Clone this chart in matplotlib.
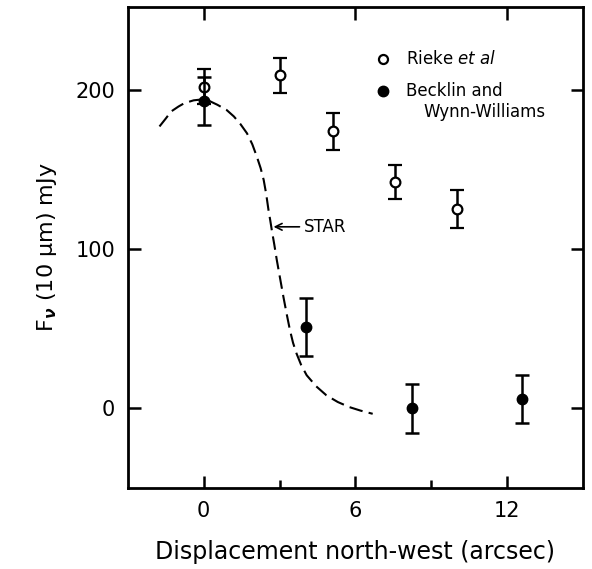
import matplotlib
matplotlib.use("Agg")
import matplotlib.pyplot as plt

# ---- data ----
rieke_x = [0.0, 3.0, 5.1, 7.55, 10.0]
rieke_y = [202, 209, 174, 142, 125]
rieke_err = [11, 11, 11.5, 10.5, 12]

becklin_x = [0.0, 4.05, 8.25, 12.6]
becklin_y = [193, 51, 0, 6]
becklin_err = [15, 18, 15.5, 15]

star_x = [-1.75, -1.5, -1.29, -1.0, -0.77, -0.4, -0.05, 0.25, 0.54, 0.9, 1.19,
          1.45, 1.71, 1.92, 2.1, 2.25, 2.37, 2.47, 2.56, 2.63, 2.69, 2.79, 2.89,
          3.02, 3.15, 3.28, 3.41, 3.53, 3.67, 3.85, 4.07, 4.45, 4.85, 5.3,
          5.76, 6.2, 6.68]
star_y = [177, 182, 186.4, 189.5, 191.6, 193.4, 194, 192.8, 190.6, 187.4,
          183.3, 178.5, 172.7, 165.8, 158, 150.8, 143.4, 134.5, 124.5, 118,
          112, 102.8, 93, 81.5, 70, 59.2, 49, 41.2, 34.4, 27.3, 20.8, 13.8,
          8.2, 4, 0.8, -1.4, -3.4]

x_major = [0, 6, 12]
x_minor = [3, 9]
y_major = [0, 100, 200]

plt.rcParams['font.family'] = ['DejaVu Sans']
plt.rcParams['mathtext.fontset'] = 'dejavusans'

fig = plt.figure(figsize=(5.92, 5.69), dpi=100)
ax = fig.add_axes([0.216, 0.1423, 0.769, 0.8454])

ax.plot(star_x, star_y, color='black', lw=1.5, dashes=(6.5, 3))

ax.errorbar(rieke_x, rieke_y, yerr=rieke_err, fmt='o', ms=7, mfc='white',
            mec='black', mew=1.6, ecolor='black', elinewidth=1.8,
            capsize=4.7, capthick=1.8, zorder=3)
ax.errorbar(becklin_x, becklin_y, yerr=becklin_err, fmt='o', ms=7.5,
            mfc='black', mec='black', ecolor='black', elinewidth=1.8,
            capsize=4.7, capthick=1.8, zorder=4)

ax.annotate('STAR', xy=(2.76, 114), xytext=(3.95, 114),
            fontsize=12, va='center', ha='left',
            arrowprops=dict(arrowstyle='->', color='black', lw=1.2,
                            shrinkA=1, shrinkB=0))

# legend key
ax.plot([0.561], [0.891], 'o', ms=6.5, mfc='white', mec='black', mew=1.6,
        transform=ax.transAxes, clip_on=False)
ax.plot([0.561], [0.826], 'o', ms=7.5, mfc='black', mec='black',
        transform=ax.transAxes, clip_on=False)
ax.text(0.611, 0.891, r'Rieke $\mathit{et\ al}$', transform=ax.transAxes,
        fontsize=12, va='center', ha='left')
ax.text(0.611, 0.826, 'Becklin and', transform=ax.transAxes,
        fontsize=12, va='center', ha='left')
ax.text(0.65, 0.781, 'Wynn-Williams', transform=ax.transAxes,
        fontsize=12, va='center', ha='left')

ax.set_xlim(-3, 15)
ax.set_ylim(-50, 252)
ax.set_xticks(x_major)
ax.set_xticks(x_minor, minor=True)
ax.set_yticks(y_major)
ax.tick_params(axis='both', which='major', direction='in', length=9,
               width=1.8, labelsize=15, top=True, right=True, pad=9)
ax.tick_params(axis='x', which='minor', direction='in', length=6,
               width=1.8, top=False)
for s in ax.spines.values():
    s.set_linewidth(2)

ax.set_xlabel('Displacement north-west (arcsec)', fontsize=17, labelpad=14)
ax.set_ylabel('F$_{\\boldsymbol{\\nu}}$ (10 \u03bcm) mJy', fontsize=16, labelpad=12)

fig.savefig('out.png', dpi=100)
